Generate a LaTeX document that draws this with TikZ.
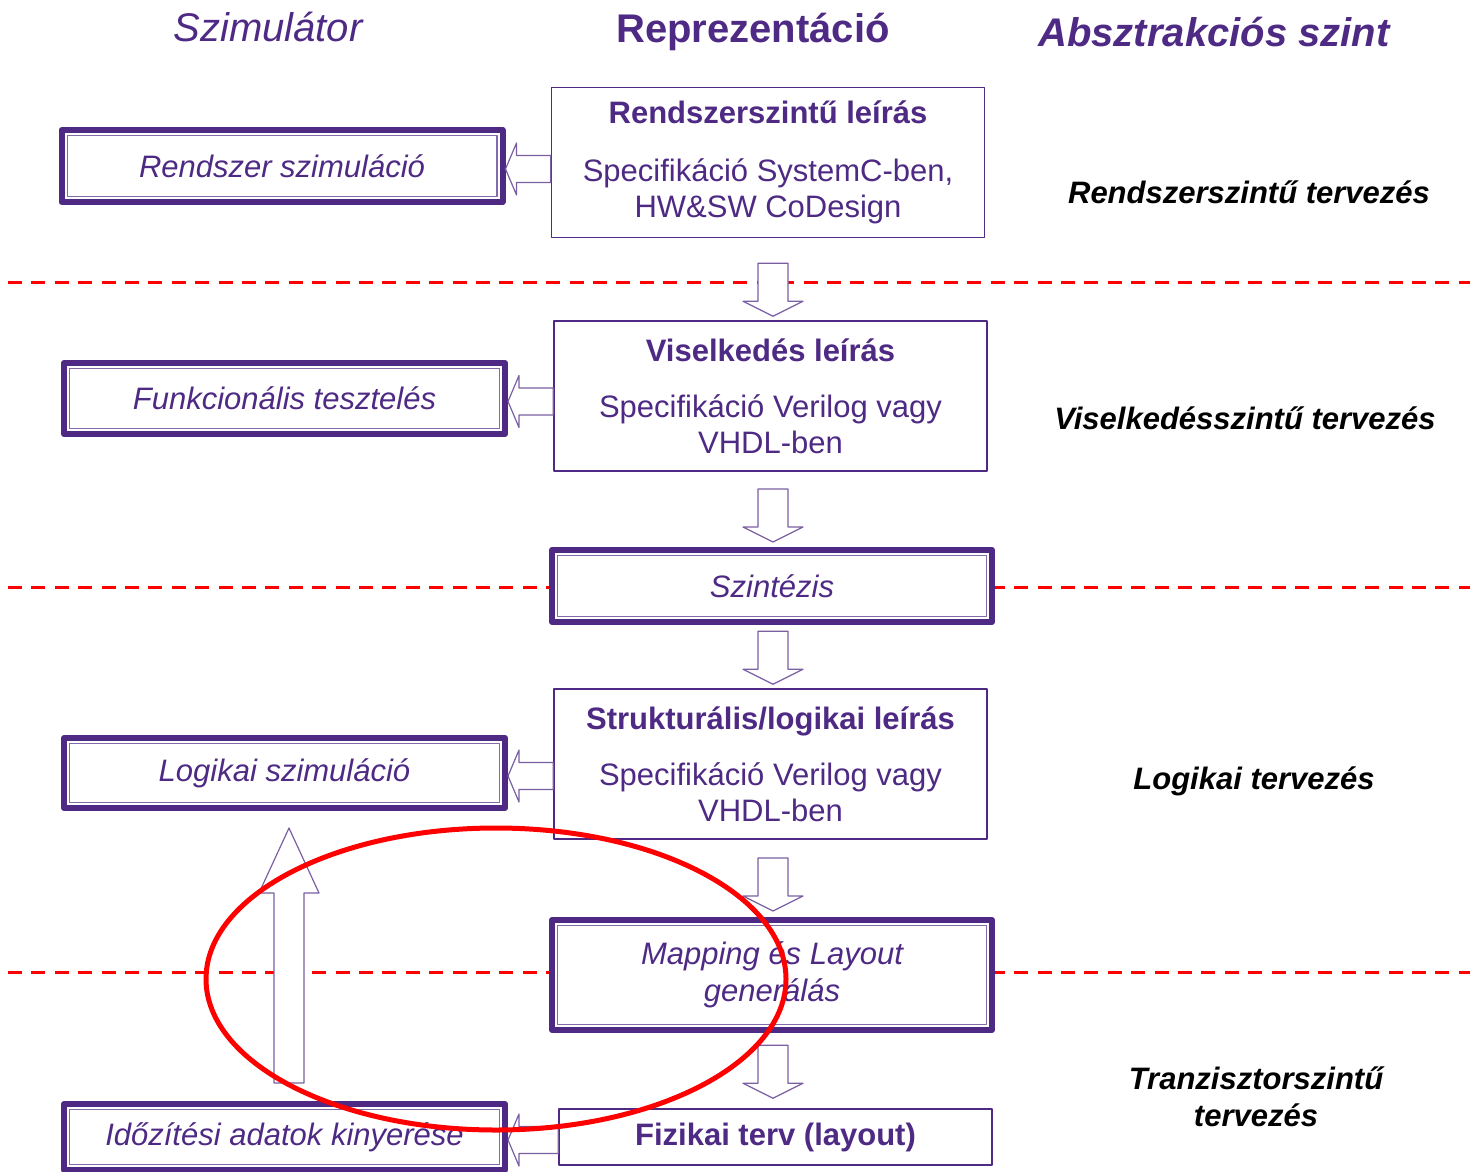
\documentclass[tikz,border=0pt]{standalone}
\usepackage{fontspec}
\setmainfont{Liberation Sans}
\usetikzlibrary{calc}
\definecolor{vio}{RGB}{78,42,132}

\begin{document}
\begin{tikzpicture}[x=0.5pt,y=-0.5pt,line join=round,
		hdr/.style={text=vio,font=\fontsize{20}{24}\selectfont},
		dblbox/.style={draw=vio,line width=3pt,fill=white,inner sep=0pt,text=vio,
			path picture={\draw[vio!70,line width=0.6pt]
				([xshift=2.8pt,yshift=-2.8pt]path picture bounding box.north west) rectangle
				([xshift=-2.8pt,yshift=2.8pt]path picture bounding box.south east);}},
		simbox/.style={dblbox,minimum width=220.5pt,font=\fontsize{15.5}{18}\selectfont\itshape},
		repbox/.style={draw=vio,line width=0.75pt,fill=white,text=vio,align=center,inner sep=0pt,
			minimum width=216.5pt,minimum height=75pt,font=\fontsize{15.5}{18}\selectfont},
		level/.style={align=center,font=\fontsize{15.5}{18.5}\selectfont\bfseries\itshape},
		levline/.style={red,line width=1.5pt,dash pattern=on 7pt off 4.7pt},
		blockarr/.style={draw=vio!75,line width=0.6pt,fill=white}]
	\useasboundingbox (0,0) rectangle (1470,1171);

	% headers
	\node[hdr,font=\fontsize{20}{24}\selectfont\itshape] (szim) at (268,27) {Szimulátor};
	\node[hdr,font=\fontsize{20}{24}\selectfont\bfseries] (repr) at (753,32) {Reprezentáció};
	\node[hdr,font=\fontsize{20}{24}\selectfont\bfseries\itshape] (absz) at (1214,32) {Absztrakciós szint};

	% level borders
	\foreach \y in {283,587,972}
		\draw[levline] (8,\y)--(1470,\y);

	% representations
	\node[repbox] (rszl) at (768,162.5) {\textbf{Rendszerszintű leírás}\\[11pt]Specifikáció SystemC-ben,\\HW\&SW CoDesign};
	\node[repbox] (visl) at (770.5,396) {\textbf{Viselkedés leírás}\\[10pt]Specifikáció Verilog vagy\\VHDL-ben};
	\node[dblbox,minimum width=220pt,minimum height=36pt,font=\fontsize{15.5}{18}\selectfont\itshape] (szint) at (772,586) {Szintézis};
	\node[repbox] (strl) at (770.5,764) {\textbf{Strukturális/logikai leírás}\\[10pt]Specifikáció Verilog vagy\\VHDL-ben};
	\node[dblbox,minimum width=220pt,minimum height=55pt,align=center,font=\fontsize{15.5}{18.5}\selectfont\itshape] (mapl) at (772,975) {Mapping és Layout\\generálás};
	\node[repbox,minimum height=28pt] (fiz) at (775.5,1137) {\textbf{Fizikai terv (layout)}};

	% simulators
	\node[simbox,minimum height=36pt] (rsim) at (282,166) {Rendszer szimuláció};
	\node[simbox,minimum height=35.5pt] (funk) at (284.5,398.5) {Funkcionális tesztelés};
	\node[simbox,minimum height=35pt] (logsim) at (284.5,773) {Logikai szimuláció};
	\node[simbox,minimum height=33pt] (idoz) at (284.5,1137) {Időzítési adatok kinyerése};

	% abstraction levels
	\node[level] (l1) at (1249,192) {Rendszerszintű tervezés};
	\node[level] (l2) at (1245,418) {Viselkedésszintű tervezés};
	\node[level] (l3) at (1254,781) {Logikai tervezés};
	\node[level] (l4) at (1256,1097) {Tranzisztorszintű\\tervezés};

	% block arrows
	\foreach \t/\g in {visl/4,szint/5,strl/4,mapl/6,fiz/10}
		\draw[blockarr] ($(\t.north -| 773,0)+(0,-\g)$) -- ++(30,-15) -- ++(-15,0) -- ++(0,-38) -- ++(-30,0) -- ++(0,38) -- ++(-15,0) -- cycle;
	\foreach \l/\r in {rsim/rszl,funk/visl,logsim/strl,idoz/fiz}
		\draw[blockarr] ($(\l.east)+(0,3)$) -- ++(11,-26) -- ++(0,12.5) -- ($(\l.east -| \r.west)+(0,-10.5)$)
			-- ($(\l.east -| \r.west)+(0,16.5)$) -- ($(\l.east)+(11,16.5)$) -- ++(0,12.5) -- cycle;
	\draw[blockarr] ($(logsim.south)+(4.5,17)$) -- ++(30,65) -- ++(-15,0) -- ($(idoz.north)+(19.5,-18)$)
		-- ($(idoz.north)+(-10.5,-18)$) -- ($(logsim.south)+(-10.5,82)$) -- ++(-15,0) -- cycle;

	% highlight
	\draw[red,line width=2.5pt] (496,979) ellipse (290 and 151);
\end{tikzpicture}
\end{document}
